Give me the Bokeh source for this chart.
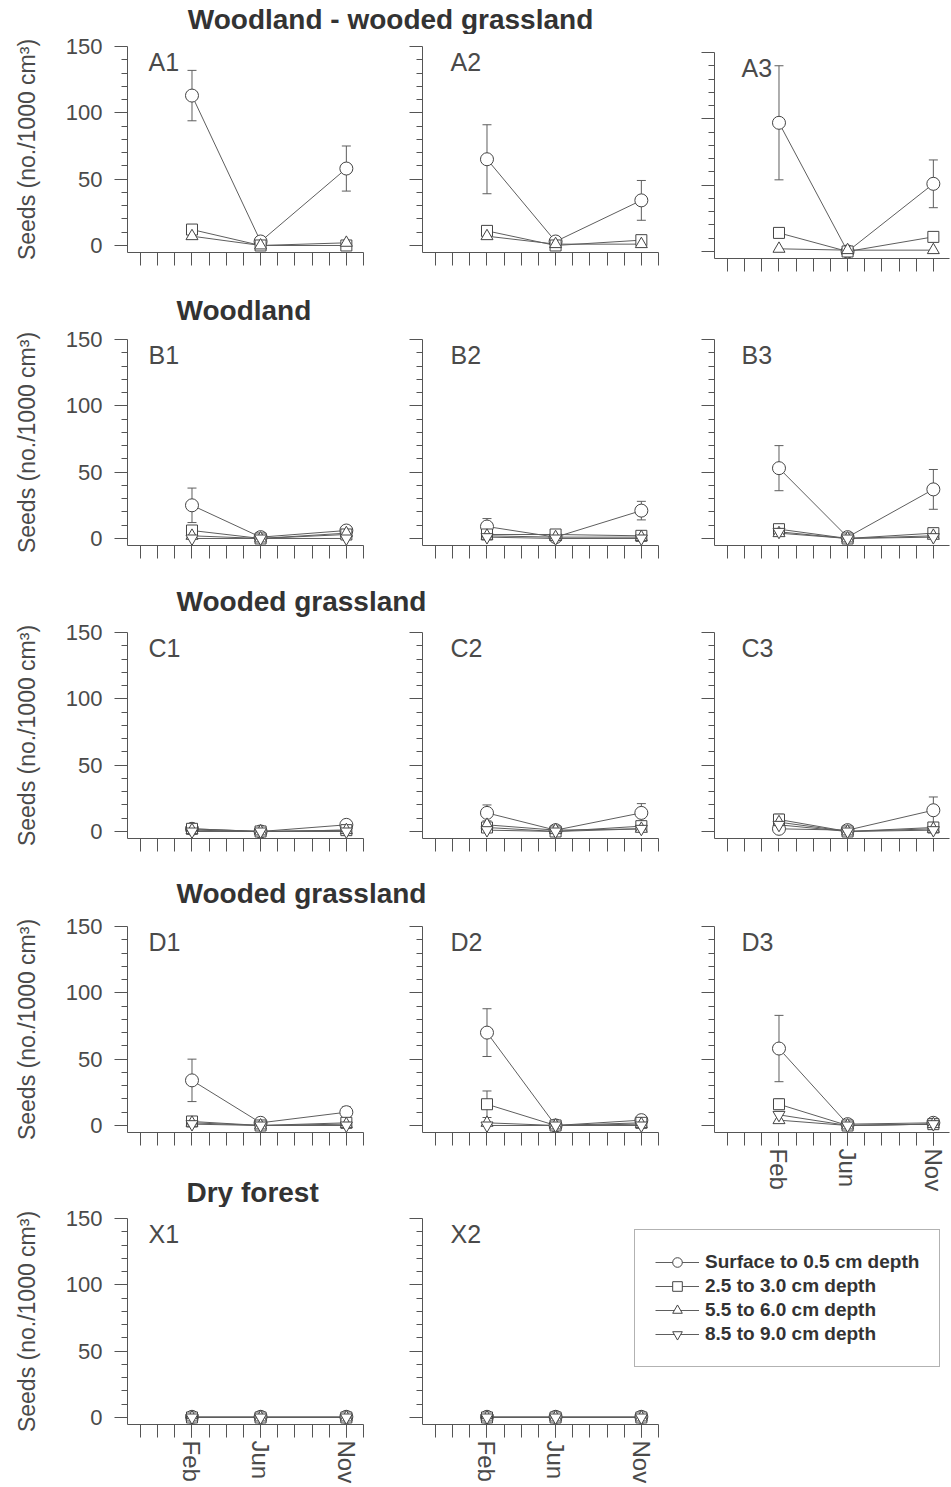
from bokeh.plotting import figure
from bokeh.layouts import column, row
from bokeh.models import (Range1d, FixedTicker, Label, Legend, LegendItem,
                          Whisker, ColumnDataSource, TeeHead)
from bokeh.embed import file_html
from bokeh.resources import INLINE

# ---------------- data ----------------
months = ["Feb", "Jun", "Nov"]
month_x = [3, 7, 12]          # position of each sampling month on the monthly axis
depths = ["Surface to 0.5 cm depth", "2.5 to 3.0 cm depth",
          "5.5 to 6.0 cm depth", "8.5 to 9.0 cm depth"]
row_titles = ["Woodland - wooded grassland", "Woodland", "Wooded grassland",
              "Wooded grassland", "Dry forest"]
y_label = "Seeds (no./1000 cm\u00b3)"

# mean seeds per depth (rows: depths; cols: Feb, Jun, Nov); None = not sampled
A1_mean = [[113, 3, 58], [12, 0, 0], [7, 0, 2], None]
A1_err = [[19, 0, 17], [2, 0, 0], [0, 0, 0], None]
A2_mean = [[65, 3, 34], [11, 0, 4], [7, 1, 1], None]
A2_err = [[26, 0, 15], [0, 0, 0], [0, 0, 0], None]
A3_mean = [[97, 0, 51], [14, 0, 11], [2, 1, 1], None]
A3_err = [[43, 0, 18], [0, 0, 1], [0, 0, 0], None]

B1_mean = [[25, 1, 6], [6, 0, 3], [2, 0, 4], [0, 0, 0]]
B1_err = [[13, 0, 0], [0, 0, 0], [0, 0, 0], [0, 0, 0]]
B2_mean = [[9, 1, 21], [3, 3, 2], [2, 1, 1], [1, 0, 0]]
B2_err = [[6, 0, 7], [0, 0, 0], [0, 0, 0], [0, 0, 0]]
B3_mean = [[53, 1, 37], [7, 0, 4], [4, 0, 2], [5, 0, 1]]
B3_err = [[17, 0, 15], [0, 0, 0], [0, 0, 0], [0, 0, 0]]

C1_mean = [[2, 0, 5], [2, 0, 1], [1, 0, 1], [0, 0, 0]]
C1_err = [[0, 0, 0], [0, 0, 0], [0, 0, 0], [0, 0, 0]]
C2_mean = [[14, 1, 14], [3, 0, 4], [5, 1, 2], [1, 0, 2]]
C2_err = [[6, 0, 7], [0, 0, 0], [0, 0, 0], [0, 0, 0]]
C3_mean = [[2, 1, 16], [9, 0, 3], [7, 0, 2], [5, 0, 1]]
C3_err = [[0, 0, 10], [4, 0, 0], [0, 0, 0], [0, 0, 0]]

D1_mean = [[34, 2, 10], [3, 0, 2], [2, 0, 1], [1, 0, 0]]
D1_err = [[16, 0, 4], [0, 0, 0], [0, 0, 0], [0, 0, 0]]
D2_mean = [[70, 0, 4], [16, 0, 2], [2, 0, 1], [0, 0, 0]]
D2_err = [[18, 0, 0], [10, 0, 0], [0, 0, 0], [0, 0, 0]]
D3_mean = [[58, 1, 2], [16, 0, 1], [4, 0, 1], [8, 0, 1]]
D3_err = [[25, 0, 0], [4, 0, 0], [0, 0, 0], [0, 0, 0]]

X1_mean = [[0.5, 0.5, 0.5], [0, 0, 0], [0, 0, 0], [0, 0, 0]]
X1_err = [[0, 0, 0], [0, 0, 0], [0, 0, 0], [0, 0, 0]]
X2_mean = [[0.5, 0.5, 0.5], [0, 0, 0], [0, 0, 0], [0, 0, 0]]
X2_err = [[0, 0, 0], [0, 0, 0], [0, 0, 0], [0, 0, 0]]

# ---------------- style ----------------
FONT = "Liberation Sans"
INK = "#4a4a4a"
TITLE_INK = "#333333"
AX = "#555555"
LINE = "#5e5e5e"
markers = ["circle", "square", "triangle", "inverted_triangle"]
marker_sizes = [13, 11, 12, 12]

X_START, X_END = -0.76, 13
Y_START, Y_END = -5.3, 150
FRAME_H = 206
COL_BL = [127, 49, 46]
COL_FW = [236, 236, 235]
COL_BR = [10, 10, 1]
LABEL_DX = [21, 28, 27]


def panel(name, means, errs, col, top=13, bottom=42, right=None, xlabels=False, frame_w=None):
    bl, fw = COL_BL[col], COL_FW[col]
    pxx = 236 / (X_END - X_START)
    pxy = FRAME_H / (Y_END - Y_START)
    fw_total = fw if frame_w is None else frame_w
    x_hi = X_START + fw_total / pxx
    br = COL_BR[col] if right is None else right
    p = figure(frame_width=fw_total, frame_height=FRAME_H,
               x_range=Range1d(X_START, x_hi), y_range=Range1d(Y_START, Y_END),
               min_border_left=bl, min_border_right=br,
               min_border_top=top, min_border_bottom=bottom,
               toolbar_location=None, output_backend="svg", title=None,
               outline_line_color=None, background_fill_color="white",
               border_fill_color="white", frame_align=False)
    p.grid.visible = False

    # y axis
    ya = p.yaxis[0]
    ya.ticker = FixedTicker(ticks=[0, 50, 100, 150], minor_ticks=list(range(10, 150, 10)))
    ya.major_tick_out, ya.major_tick_in = 13, 0
    ya.minor_tick_out, ya.minor_tick_in = 6, 0
    ya.axis_line_color = AX
    ya.major_tick_line_color = AX
    ya.minor_tick_line_color = AX
    if col == 0:
        ya.major_label_text_font = FONT
        ya.major_label_text_font_size = "22px"
        ya.major_label_text_color = INK
        ya.major_label_standoff = 12
        ya.axis_label = y_label
        ya.axis_label_text_font = FONT
        ya.axis_label_text_font_size = "23px"
        ya.axis_label_text_font_style = "normal"
        ya.axis_label_text_color = INK
        ya.axis_label_standoff = 23
    else:
        ya.major_label_overrides = {0: "", 50: "", 100: "", 150: ""}

    # x axis: one tick per month, labels only on sampling months
    xa = p.xaxis[0]
    xa.bounds = (X_START, X_END)
    xa.ticker = FixedTicker(ticks=month_x if xlabels else [], minor_ticks=list(range(0, 14)))
    xa.major_tick_out, xa.major_tick_in = 13, 0
    xa.minor_tick_out, xa.minor_tick_in = 13, 0
    xa.axis_line_color = AX
    xa.major_tick_line_color = AX
    xa.minor_tick_line_color = AX
    xa.major_label_overrides = {mx: m for mx, m in zip(month_x, months)}
    xa.major_label_orientation = "vertical"
    xa.major_label_text_font = FONT
    xa.major_label_text_font_size = "24px"
    xa.major_label_text_color = INK
    xa.major_label_standoff = 3

    # error bars
    for k, (vals, ev) in enumerate(zip(means, errs)):
        if vals is None:
            continue
        b = [month_x[i] for i in range(3) if ev[i] > 0]
        if not b:
            continue
        up = [vals[i] + ev[i] for i in range(3) if ev[i] > 0]
        lo = [max(vals[i] - ev[i], 0) for i in range(3) if ev[i] > 0]
        wsrc = ColumnDataSource(dict(base=b, upper=up, lower=lo))
        w = Whisker(source=wsrc, base="base", upper="upper", lower="lower",
                    dimension="height", line_color=LINE, line_width=1,
                    upper_head=TeeHead(size=9, line_color=LINE, line_width=1),
                    lower_head=TeeHead(size=9, line_color=LINE, line_width=1))
        p.add_layout(w)

    lines, dots = [], []
    for k, vals in enumerate(means):
        if vals is None:
            lines.append(None)
            continue
        src = ColumnDataSource(dict(x=month_x, y=vals))
        lines.append(p.line("x", "y", source=src, line_color=LINE, line_width=1))
    for k, vals in enumerate(means):
        if vals is None:
            dots.append(None)
            continue
        src = ColumnDataSource(dict(x=month_x, y=vals))
        dots.append(p.scatter("x", "y", source=src, marker=markers[k], size=marker_sizes[k],
                              line_color="#444444", line_width=1, fill_color="white"))

    # panel label (vertically centred on its capitals)
    p.add_layout(Label(x=X_START + LABEL_DX[col] / pxx, y=Y_END - 15.5 / pxy, text=name,
                       text_font=FONT, text_font_size="25px", text_color=INK,
                       text_align="left", text_baseline="middle"))
    return p, lines, dots


def strip(text, width, height, x, center, align="left"):
    s = figure(width=width, height=height, x_range=Range1d(0, width), y_range=Range1d(0, height),
               min_border=0, toolbar_location=None, output_backend="svg", title=None,
               x_axis_type=None, y_axis_type=None, outline_line_color=None,
               background_fill_color="white", border_fill_color="white", frame_align=False)
    s.grid.visible = False
    s.add_layout(Label(x=x, y=height - center, text=text, text_font=FONT,
                       text_font_size="28px", text_font_style="bold", text_color=TITLE_INK,
                       text_align=align, text_baseline="middle"))
    return s


W_ALL = sum(COL_BL) + sum(COL_FW) + sum(COL_BR)
W_LEFT = COL_BL[0] + COL_FW[0] + COL_BR[0] + COL_BL[1] + COL_FW[1] + COL_BR[1]

# row A: frame 46..252   (strip 0..34)
sA = strip(row_titles[0], W_ALL, 34, 390, 18.5, align="center")
pA1, _, _ = panel("A1", A1_mean, A1_err, 0, top=12, bottom=42)
pA2, _, _ = panel("A2", A2_mean, A2_err, 1, top=12, bottom=42)
pA3, _, _ = panel("A3", A3_mean, A3_err, 2, top=18, bottom=36)

# row B: frame 339..545   (strip 294..326)
sB = strip(row_titles[1], W_ALL, 32, 176, 16)
pB1, _, _ = panel("B1", B1_mean, B1_err, 0, top=13, bottom=40)
pB2, _, _ = panel("B2", B2_mean, B2_err, 1, top=13, bottom=40)
pB3, _, _ = panel("B3", B3_mean, B3_err, 2, top=13, bottom=40)

# row C: frame 632..838   (strip 585..619)
sC = strip(row_titles[2], W_ALL, 34, 176, 16)
pC1, _, _ = panel("C1", C1_mean, C1_err, 0, top=13, bottom=39)
pC2, _, _ = panel("C2", C2_mean, C2_err, 1, top=13, bottom=39)
pC3, _, _ = panel("C3", C3_mean, C3_err, 2, top=13, bottom=39)

# row D: frame 926..1132  (strip 877..913)
sD = strip(row_titles[3], W_ALL, 36, 176, 16)
pD1, _, _ = panel("D1", D1_mean, D1_err, 0, top=13, bottom=44)
pD2, _, _ = panel("D2", D2_mean, D2_err, 1, top=13, bottom=44)
pD3, _, _ = panel("D3", D3_mean, D3_err, 2, top=13, bottom=75, xlabels=True)

# row X: frame 1218..1424 (strip 1176..1207)
sX = strip(row_titles[4], W_LEFT, 31, 186, 15.5)
pX1, _, _ = panel("X1", X1_mean, X1_err, 0, top=11, bottom=61, xlabels=True)
# X2 frame is widened (x axis bounded to the panel) so the legend can sit beside it
pX2, lx, dx = panel("X2", X2_mean, X2_err, 1, top=11, bottom=61, right=1, xlabels=True,
                    frame_w=523)

items = [LegendItem(label=depths[k], renderers=[lx[k], dx[k]]) for k in range(4)]
legend = Legend(items=items, location=(212, 57), margin=0, padding=20, spacing=0,
                glyph_width=44, glyph_height=24, label_standoff=6,
                label_text_font=FONT, label_text_font_size="19px",
                label_text_font_style="bold", label_text_color=TITLE_INK,
                border_line_color="#666666", border_line_width=1.5,
                background_fill_color="white", background_fill_alpha=1)
pX2.add_layout(legend)

layout = column(
    sA, row(pA1, pA2, pA3),
    sB, row(pB1, pB2, pB3),
    sC, row(pC1, pC2, pC3),
    sD, row(column(row(pD1, pD2), sX), pD3),
    row(pX1, pX2),
)

open("out.html", "w").write(file_html(layout, INLINE))
